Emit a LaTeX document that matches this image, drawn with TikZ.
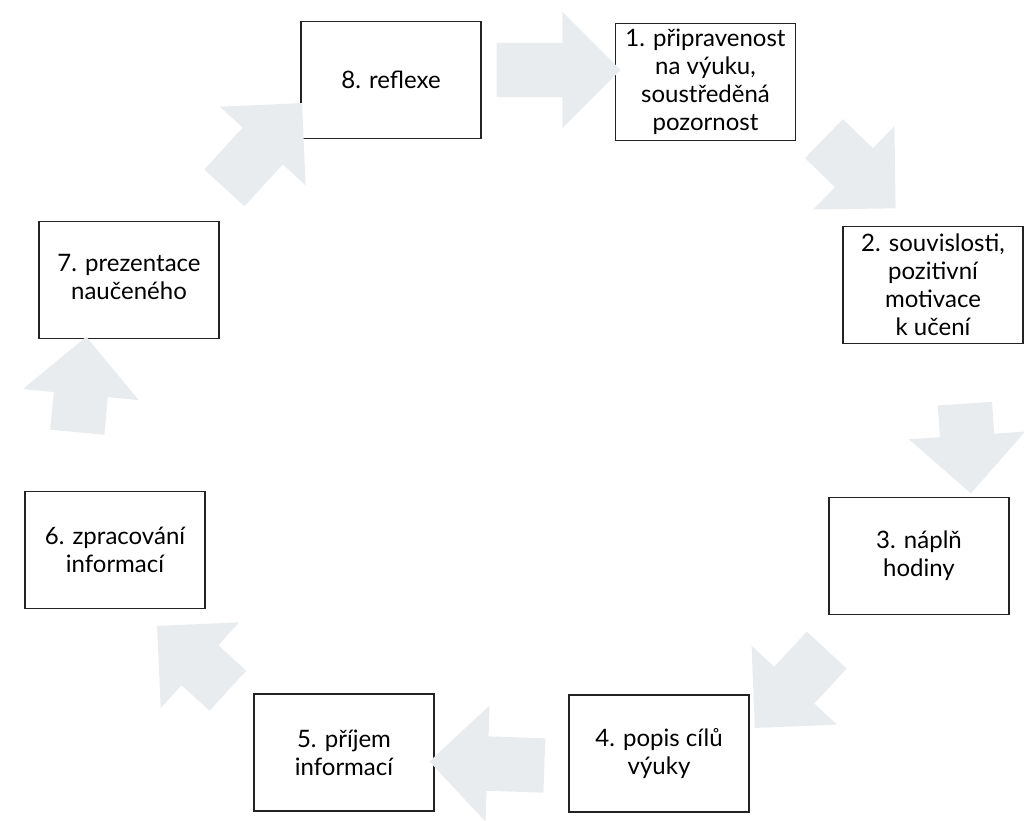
\documentclass[tikz,border=0pt]{standalone}
\usepackage{fontspec}
\setmainfont{Lato}
\usetikzlibrary{shapes.arrows}
\definecolor{arrowgray}{RGB}{233,236,239}
\definecolor{framegray}{RGB}{35,35,35}
\tikzset{
  stage/.style ={rectangle, draw=framegray, line width=1.4pt, fill=white,
                 align=center, font=\fontsize{24}{28}\selectfont,
                 minimum width=180pt, minimum height=117pt, inner sep=2pt},
  turn/.style  ={single arrow, fill=arrowgray, draw=none, inner xsep=0pt,
                 inner ysep=27pt, single arrow head extend=31pt,
                 single arrow tip angle=90, minimum height=#1},
}

\begin{document}
\begin{tikzpicture}[x=1pt, y=1pt]
  \useasboundingbox (0,0) rectangle (1031,-821);
  % the eight stages of the lesson
  \node[stage] (s8) at (391,-80)    {8. reflexe};
  \node[stage] (s1) at (705.5,-82)  {1. připravenost\\na výuku,\\soustředěná\\pozornost};
  \node[stage] (s2) at (933,-285)   {2. souvislosti,\\pozitivní\\motivace\\k učení};
  \node[stage] (s3) at (919,-556)   {3. náplň\\hodiny};
  \node[stage] (s4) at (659,-753.5) {4. popis cílů\\výuky};
  \node[stage] (s5) at (344,-752.5) {5. příjem\\informací};
  \node[stage] (s6) at (115,-550)   {6. zpracování\\informací};
  \node[stage] (s7) at (129,-280)   {\raisebox{12pt}{\begin{tabular}{@{}c@{}}7. prezentace\\naučeného\end{tabular}}};
  % block arrows between them
  \node[turn=124, rotate=0]      (a81) at (545,-70)      {};
  \node[turn=100, rotate=-44.2]  (a12) at (850,-164)     {};
  \node[turn=90,  rotate=-86.2]  (a23) at (967,-435)     {};
  \node[turn=106, rotate=-132.7] (a34) at (800,-679)     {};
  \node[turn=115, rotate=178]    (a45) at (500.5,-764)   {};
  \node[turn=96,  rotate=137.5]  (a56) at (202.5,-667.5) {};
  \node[turn=96,  rotate=84.6]   (a67) at (80.5,-398)    {};
  \node[turn=115, rotate=47.5]   (a78) at (254,-155.5)   {};
\end{tikzpicture}
\end{document}
